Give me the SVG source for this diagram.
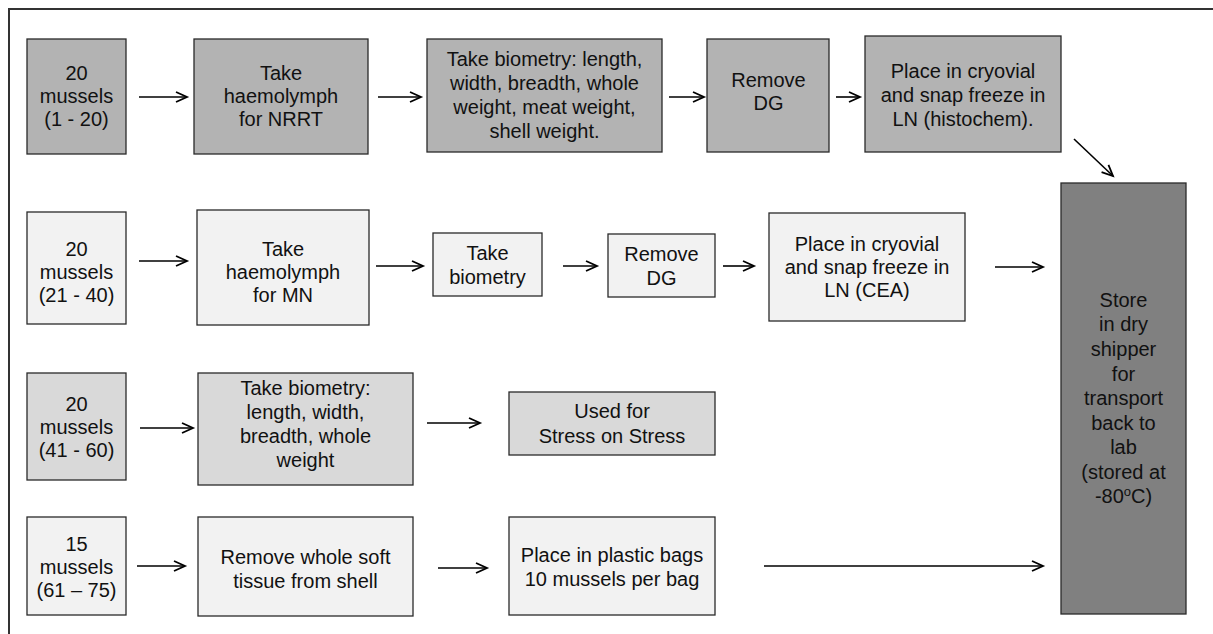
<svg xmlns="http://www.w3.org/2000/svg" width="1213" height="634" viewBox="0 0 1213 634">
<style>
  .box { stroke: #2a2a2a; stroke-width: 1.3; }
  .g1 { fill: #b3b3b3; }
  .g2 { fill: #f2f2f2; }
  .g3 { fill: #d9d9d9; }
  .g4 { fill: #808080; }
  text { font-family: "Liberation Sans", Arial, sans-serif; font-size: 20px; fill: #111; text-anchor: middle; }
  .conn line { stroke: #000; stroke-width: 1.6; marker-end: url(#arr); }
  .frame { stroke: #333; stroke-width: 2; fill: none; }
</style>
<defs>
  <marker id="arr" markerUnits="userSpaceOnUse" markerWidth="20" markerHeight="20" refX="12" refY="6" orient="auto" overflow="visible">
    <polyline points="1,1 12,6 1,11" fill="none" stroke="#000" stroke-width="1.8"/>
  </marker>
</defs>
<rect width="1213" height="634" fill="#fff"/>
<polyline class="frame" points="9,634 9,9 1213,9"/>

<g id="a1"><rect class="box g1" x="27" y="39" width="99" height="115"/>
<text x="76.5" y="80">20</text><text x="76.5" y="103">mussels</text><text x="76.5" y="126">(1 - 20)</text></g>
<g id="a2"><rect class="box g1" x="194" y="39" width="174" height="115"/>
<text x="281" y="80">Take</text><text x="281" y="103">haemolymph</text><text x="281" y="126">for NRRT</text></g>
<g id="a3"><rect class="box g1" x="427" y="39" width="235" height="113"/>
<text x="544.5" y="66">Take biometry: length,</text><text x="544.5" y="90">width, breadth, whole</text><text x="544.5" y="114">weight, meat weight,</text><text x="544.5" y="138">shell weight.</text></g>
<g id="a4"><rect class="box g1" x="707" y="39" width="122" height="113"/>
<text x="768.5" y="87">Remove</text><text x="768.5" y="110">DG</text></g>
<g id="a5"><rect class="box g1" x="865" y="36" width="196" height="116"/>
<text x="963" y="78">Place in cryovial</text><text x="963" y="102">and snap freeze in</text><text x="963" y="126">LN (histochem).</text></g>

<g id="store"><rect class="box g4" x="1061" y="183" width="125" height="431"/>
<text x="1123.5" y="307">Store</text><text x="1123.5" y="331">in dry</text><text x="1123.5" y="356">shipper</text><text x="1123.5" y="381">for</text><text x="1123.5" y="405">transport</text><text x="1123.5" y="430">back to</text><text x="1123.5" y="454">lab</text><text x="1123.5" y="479">(stored at</text><text x="1123.5" y="503">-80<tspan font-size="13" dy="-7">o</tspan><tspan dy="7">C)</tspan></text></g>

<g id="b1"><rect class="box g2" x="27" y="212" width="99" height="112"/>
<text x="76.5" y="256">20</text><text x="76.5" y="279">mussels</text><text x="76.5" y="302">(21 - 40)</text></g>
<g id="b2"><rect class="box g2" x="197" y="210" width="172" height="115"/>
<text x="283" y="256">Take</text><text x="283" y="279">haemolymph</text><text x="283" y="302">for MN</text></g>
<g id="b3"><rect class="box g2" x="433" y="233" width="109" height="63"/>
<text x="487.5" y="260">Take</text><text x="487.5" y="284">biometry</text></g>
<g id="b4"><rect class="box g2" x="608" y="234" width="107" height="63"/>
<text x="661.5" y="261">Remove</text><text x="661.5" y="285">DG</text></g>
<g id="b5"><rect class="box g2" x="769" y="213" width="196" height="108"/>
<text x="867" y="251">Place in cryovial</text><text x="867" y="274">and snap freeze in</text><text x="867" y="297">LN (CEA)</text></g>

<g id="c1"><rect class="box g3" x="27" y="373" width="99" height="107"/>
<text x="76.5" y="411">20</text><text x="76.5" y="434">mussels</text><text x="76.5" y="457">(41 - 60)</text></g>
<g id="c2"><rect class="box g3" x="198" y="373" width="215" height="112"/>
<text x="305.5" y="395">Take biometry:</text><text x="305.5" y="419">length, width,</text><text x="305.5" y="443">breadth, whole</text><text x="305.5" y="467">weight</text></g>
<g id="c3"><rect class="box g3" x="509" y="392" width="206" height="63"/>
<text x="612" y="418">Used for</text><text x="612" y="443">Stress on Stress</text></g>

<g id="d1"><rect class="box g2" x="27" y="517" width="99" height="98"/>
<text x="76.5" y="551">15</text><text x="76.5" y="574">mussels</text><text x="76.5" y="597">(61 – 75)</text></g>
<g id="d2"><rect class="box g2" x="198" y="517" width="215" height="99"/>
<text x="305.5" y="564">Remove whole soft</text><text x="305.5" y="588">tissue from shell</text></g>
<g id="d3"><rect class="box g2" x="509" y="517" width="206" height="98"/>
<text x="612" y="562">Place in plastic bags</text><text x="612" y="586">10 mussels per bag</text></g>

<g id="connectors" class="conn">
  <line x1="139" y1="97" x2="187" y2="97"/>
  <line x1="378" y1="97" x2="421" y2="97"/>
  <line x1="669" y1="97" x2="704" y2="97"/>
  <line x1="836" y1="97" x2="860" y2="97"/>
  <line x1="1074" y1="139" x2="1113" y2="176"/>
  <line x1="139" y1="261" x2="187" y2="261"/>
  <line x1="376" y1="266" x2="423" y2="266"/>
  <line x1="563" y1="266" x2="597" y2="266"/>
  <line x1="723" y1="266" x2="754" y2="266"/>
  <line x1="995" y1="267" x2="1043" y2="267"/>
  <line x1="140" y1="428" x2="193" y2="428"/>
  <line x1="427" y1="423" x2="480" y2="423"/>
  <line x1="137" y1="566" x2="185" y2="566"/>
  <line x1="438" y1="568" x2="487" y2="568"/>
  <line x1="764" y1="566" x2="1043" y2="566"/>
</g>
</svg>
